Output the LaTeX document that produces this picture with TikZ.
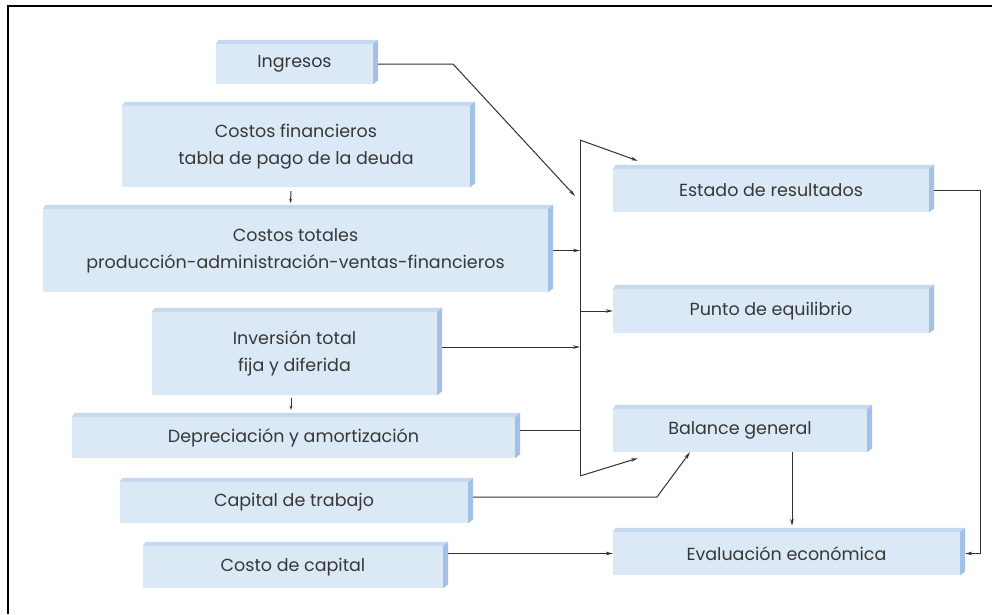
\documentclass[tikz,border=0pt]{standalone}
\usepackage{fontspec}
\setmainfont{Poppins}
\usetikzlibrary{arrows.meta,calc}
\definecolor{front}{RGB}{219,233,247}
\definecolor{topf}{RGB}{198,217,240}
\definecolor{side}{RGB}{163,193,232}
\definecolor{txt}{RGB}{55,55,55}
\definecolor{ln}{RGB}{50,50,50}
\tikzset{
 box/.style={fill=front, inner sep=0pt, align=center, text=txt, font=\fontsize{17.5}{27}\selectfont},
 arr/.style={draw=ln, line width=1pt, -{Stealth[length=7pt,width=3.5pt]}},
 sarr/.style={draw=ln, line width=1pt, -{Stealth[length=4pt,width=3pt]}},
 plain/.style={draw=ln, line width=1pt},
}
\newcommand\boxfaces[1]{%
 \fill[topf] (#1.north west) -- ++(3,-4) -- ([shift={(5,-4)}]#1.north east) -- (#1.north east) -- cycle;
 \fill[side] (#1.north east) -- ++(5,-4) -- ([shift={(5,-4)}]#1.south east) -- (#1.south east) -- cycle;
}
\begin{document}
\begin{tikzpicture}[x=1pt,y=-1pt]
\useasboundingbox (0,0) rectangle (992,614);
\fill[white] (0,0) rectangle (992,614);
\draw[line width=2.5pt] (8,614) -- (8,6) -- (992,6);

\node[box, minimum width=157pt, minimum height=40pt] (ing) at (294.5,64) {Ingresos};
\node[box, minimum width=348pt, minimum height=81pt] (cfin) at (296,146.5) {Costos financieros\\tabla de pago de la deuda};
\node[box, minimum width=505pt, minimum height=83pt] (ctot) at (295.5,250.5) {Costos totales\\producción-administración-ventas-financieros};
\node[box, minimum width=285pt, minimum height=83pt] (inv) at (294.5,353.5) {Inversión total\\fija y diferida};
\node[box, minimum width=443pt, minimum height=41pt] (dep) at (293.5,437.5) {Depreciación y amortización};
\node[box, minimum width=348pt, minimum height=41pt] (cap) at (294,502.5) {Capital de trabajo};
\node[box, minimum width=300pt, minimum height=42pt] (cc) at (293,567) {Costo de capital};
\node[box, minimum width=316pt, minimum height=43pt] (est) at (771,190.5) {Estado de resultados};
\node[box, minimum width=316pt, minimum height=44pt] (pun) at (771,311) {Punto de equilibrio};
\node[box, minimum width=254pt, minimum height=43pt] (bal) at (740,430.5) {Balance general};
\node[box, minimum width=347pt, minimum height=43pt] (eva) at (786.5,553.5) {Evaluación económica};
\foreach \n in {ing,cfin,ctot,inv,dep,cap,cc,est,pun,bal,eva} {\boxfaces{\n}}

\coordinate (bt) at (580,140);
\coordinate (bb) at (580,476);
\coordinate (ik) at (453,64);
\coordinate (ie) at (575,196);
\coordinate (b3) at (580,347);
\coordinate (b4) at (580,430);
\coordinate (ck) at (657,497);
\coordinate (et) at ([shift={(5.5,-6)}]eva.north);
\coordinate (rk) at (980,0);

\draw[arr] ([xshift=5pt]ing.east) -- (ik) -- (ie);
\draw[plain] (bb) -- (bt);
\draw[arr] (bt) -- ([shift={(25,-8)}]est.north west);
\draw[arr] (bb) -- ([shift={(25,6)}]bal.south west);
\draw[arr] ([xshift=5pt]ctot.east) -- (ctot.east -| bt);
\draw[arr] (pun.west -| bt) -- (pun.west);
\draw[arr] ([xshift=5pt]inv.east |- b3) -- (b3);
\draw[plain] ([xshift=5pt]dep.east |- b4) -- (b4);
\draw[arr] ([xshift=5pt]cap.east |- ck) -- (ck) -- ([xshift=-50pt]bal.south);
\draw[arr] ([xshift=5pt]cc.east |- eva.west) -- (eva.west);
\draw[arr] (bal.south -| et) -- (et);
\draw[arr] ([xshift=5pt]est.east) -- (est.east -| rk) -- (eva.east -| rk) -- ([xshift=5pt]eva.east);
\draw[sarr] ([shift={(-5,4)}]cfin.south) -- ([shift={(-5,-6)}]ctot.north);
\draw[sarr] ([shift={(-3.5,3)}]inv.south) -- ([shift={(-2.5,-7)}]dep.north);
\end{tikzpicture}
\end{document}
